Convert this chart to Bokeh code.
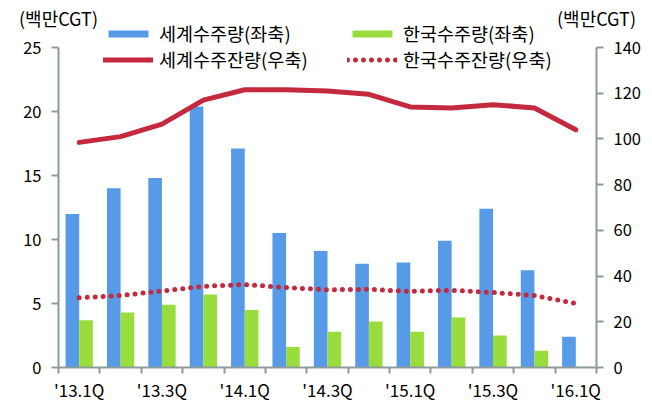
from bokeh.plotting import figure
from bokeh.models import (ColumnDataSource, Range1d, LinearAxis, FixedTicker, Legend,
                          LegendItem)
from bokeh.transform import dodge
from bokeh.embed import file_html
from bokeh.resources import INLINE

quarters = ["'13.1Q", "'13.2Q", "'13.3Q", "'13.4Q", "'14.1Q", "'14.2Q", "'14.3Q",
            "'14.4Q", "'15.1Q", "'15.2Q", "'15.3Q", "'15.4Q", "'16.1Q"]
world_orders = [12.0, 14.0, 14.8, 20.4, 17.1, 10.5, 9.1, 8.1, 8.2, 9.9, 12.4, 7.6, 2.4]
korea_orders = [3.7, 4.3, 4.9, 5.7, 4.5, 1.6, 2.8, 3.6, 2.8, 3.9, 2.5, 1.3, 0.05]
world_backlog = [98.5, 101, 106.5, 117, 121.5, 121.5, 121, 119.5, 114, 113.5, 115, 113.5, 104]
korea_backlog = [30.5, 31.5, 33.5, 35.5, 36.3, 35, 34, 34.2, 33.3, 33.8, 32.8, 31.5, 28]
unit_label = "(백만CGT)"

left_max, right_max = 25, 140

FONT = "Noto Sans CJK KR"
AXIS_COLOR = "#8C9C9C"
BLUE = "#579AE8"
GREEN = "#99DD3C"
RED = "#C4293D"

# layout (pixels)
W, H = 652, 404
FL, FR, FT, FB = 58, 596, 14, 367      # frame edges
AXIS_TOP = 47                          # where the top tick (25 / 140) sits
frame_h = FB - FT
scale = frame_h / (FB - AXIS_TOP)      # extend ranges so the axes end at AXIS_TOP

idx = list(range(len(quarters)))
src = ColumnDataSource(dict(x=idx, wo=world_orders, ko=korea_orders,
                            wb=world_backlog, kb=korea_backlog))

p = figure(width=W, height=H, output_backend="svg", toolbar_location=None,
           x_range=Range1d(-0.5, len(quarters) - 0.5),
           y_range=Range1d(0, left_max * scale),
           min_border_left=FL, min_border_right=W - FR, min_border_top=FT,
           min_border_bottom=H - FB)
p.extra_y_ranges = {"right": Range1d(0, right_max * scale)}
p.extra_x_ranges = {"px": Range1d(0, FR - FL)}
p.outline_line_color = None
p.xgrid.visible = False
p.ygrid.visible = False

bw = p.vbar(x=dodge("x", -0.165, range=p.x_range), top="wo", width=0.33, source=src,
            fill_color=BLUE, line_color=None)
bk = p.vbar(x=dodge("x", 0.165, range=p.x_range), top="ko", width=0.33, source=src,
            fill_color=GREEN, line_color=None)
lw = p.line("x", "wb", source=src, y_range_name="right", line_color=RED, line_width=5,
            line_join="round", line_cap="round")
lk = p.line("x", "kb", source=src, y_range_name="right", line_color=RED, line_width=5,
            line_dash="0 8", line_cap="round")

def style_axis(ax, size="16.5px"):
    ax.axis_line_color = AXIS_COLOR
    ax.axis_line_width = 2
    ax.major_tick_line_color = AXIS_COLOR
    ax.major_tick_line_width = 2
    ax.minor_tick_line_color = None
    ax.major_tick_in = 0
    ax.major_tick_out = 7
    ax.major_label_text_font = FONT
    ax.major_label_text_font_size = size
    ax.major_label_text_color = "black"

xa = p.xaxis[0]
style_axis(xa, "17px")
xa.ticker = FixedTicker(ticks=idx[::2], minor_ticks=[i - 0.5 for i in idx] + [idx[-1] + 0.5])
xa.major_label_overrides = {i: quarters[i] for i in idx[::2]}
xa.major_tick_line_color = None
xa.minor_tick_line_color = AXIS_COLOR
xa.minor_tick_line_width = 2
xa.minor_tick_in = 0
xa.minor_tick_out = 6
xa.major_label_standoff = 2

ya = p.yaxis[0]
style_axis(ya)
ya.ticker = FixedTicker(ticks=list(range(0, left_max + 1, 5)))
ya.bounds = (0, left_max)
ya.major_label_standoff = 10

ra = LinearAxis(y_range_name="right")
style_axis(ra)
ra.ticker = FixedTicker(ticks=list(range(0, right_max + 1, 20)))
ra.bounds = (0, right_max)
ra.major_label_standoff = 10
p.add_layout(ra, "right")

# unit labels above the two value axes, as tick labels of a hidden top axis
ta = LinearAxis(x_range_name="px")
ta.ticker = FixedTicker(ticks=[0, FR - FL])
ta.major_label_overrides = {0: unit_label, FR - FL: unit_label}
ta.axis_line_color = None
ta.major_tick_line_color = None
ta.minor_tick_line_color = None
ta.major_tick_in = 0
ta.major_tick_out = 0
ta.major_label_standoff = -16
ta.major_label_text_font = FONT
ta.major_label_text_font_size = "18px"
ta.major_label_text_color = "black"
p.add_layout(ta, "above")

def make_legend(items, vx):
    lg = Legend(items=items, location=(vx, 295), orientation="vertical",
                glyph_width=50, glyph_height=9, label_height=22, spacing=0,
                label_standoff=6, padding=0, margin=0,
                border_line_color=None, background_fill_alpha=0,
                label_text_font=FONT, label_text_font_size="18.5px",
                label_text_color="black")
    p.add_layout(lg, "center")

make_legend([LegendItem(label="세계수주량(좌축)", renderers=[bw]),
             LegendItem(label="세계수주잔량(우축)", renderers=[lw])], 103 - FL)
make_legend([LegendItem(label="한국수주량(좌축)", renderers=[bk]),
             LegendItem(label="한국수주잔량(우축)", renderers=[lk])], 347 - FL)

open("out.html", "w").write(file_html(p, INLINE))
